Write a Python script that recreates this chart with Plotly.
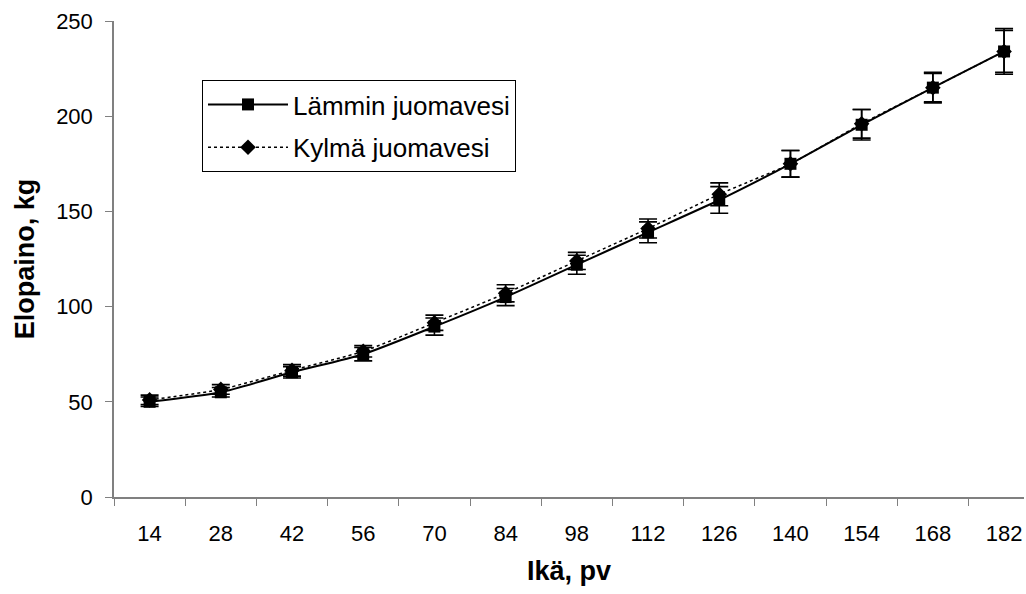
import plotly.graph_objects as go

days = [14, 28, 42, 56, 70, 84, 98, 112, 126, 140, 154, 168, 182]
lammin = [50, 55, 65.5, 75, 89.5, 105, 122, 139, 156, 175, 195.5, 215, 234]
lammin_err = [2.5, 2.5, 3, 3.5, 4.5, 4.5, 5, 5.5, 7, 7, 8, 8, 12]
kylma = [51, 56.5, 66.5, 76.5, 91.5, 107, 124, 141, 159, 175, 196, 215, 234]
kylma_err = [2.5, 2.5, 3, 3, 4, 4.5, 4.5, 5, 6, 7, 7.5, 7.5, 11]
tick_labels = [str(d) for d in days]

xpos = list(range(len(days)))

fig = go.Figure()
fig.add_trace(go.Scatter(
    x=xpos, y=lammin, name="Lämmin juomavesi", mode="lines+markers",
    legendgroup="a",
    line=dict(color="black", width=2, shape="spline", smoothing=0.6),
    marker=dict(symbol="square", size=12, color="black"),
    error_y=dict(type="data", array=lammin_err, color="black", thickness=1.6, width=9),
))
fig.add_trace(go.Scatter(
    x=xpos, y=kylma, name="Kylmä juomavesi", mode="lines+markers",
    legendgroup="b",
    line=dict(color="black", width=1.5, dash="dot", shape="spline", smoothing=0.6),
    marker=dict(symbol="diamond", size=12, color="black"),
    error_y=dict(type="data", array=kylma_err, color="black", thickness=1.6, width=9),
))

boundaries = [i - 0.5 for i in range(len(days) + 1)]

fig.update_layout(
    width=1026, height=594,
    margin=dict(l=114, r=2, t=21, b=97),
    paper_bgcolor="white", plot_bgcolor="white",
    font=dict(family="Liberation Sans, Arial", size=22, color="black"),
    showlegend=True,
    legend=dict(
        x=0.0967, y=0.876, xanchor="left", yanchor="top",
        bordercolor="black", borderwidth=1, bgcolor="white",
        font=dict(size=26), itemwidth=80, tracegroupgap=6,
    ),
    xaxis=dict(
        range=[-0.5, 12.28], tickmode="array", tickvals=xpos, ticktext=tick_labels,
        ticks="", showgrid=False, zeroline=False,
        showline=True, linecolor="#808080", linewidth=1.5,
        ticklabelstandoff=16,
        minor=dict(tickmode="array", tickvals=boundaries, ticks="outside",
                   ticklen=7, tickcolor="#808080", tickwidth=1),
        title=dict(text="<b>Ikä, pv</b>", font=dict(size=27), standoff=16),
        tickfont=dict(size=22),
    ),
    yaxis=dict(
        range=[0, 250], tickvals=[0, 50, 100, 150, 200, 250],
        ticks="outside", ticklen=7, tickcolor="#808080",
        showgrid=False, zeroline=False,
        showline=True, linecolor="#808080", linewidth=1.5,
        ticklabelstandoff=8,
        title=dict(text="<b>Elopaino, kg</b>", font=dict(size=27), standoff=14),
        tickfont=dict(size=22),
    ),
)

fig.write_html("out.html")
